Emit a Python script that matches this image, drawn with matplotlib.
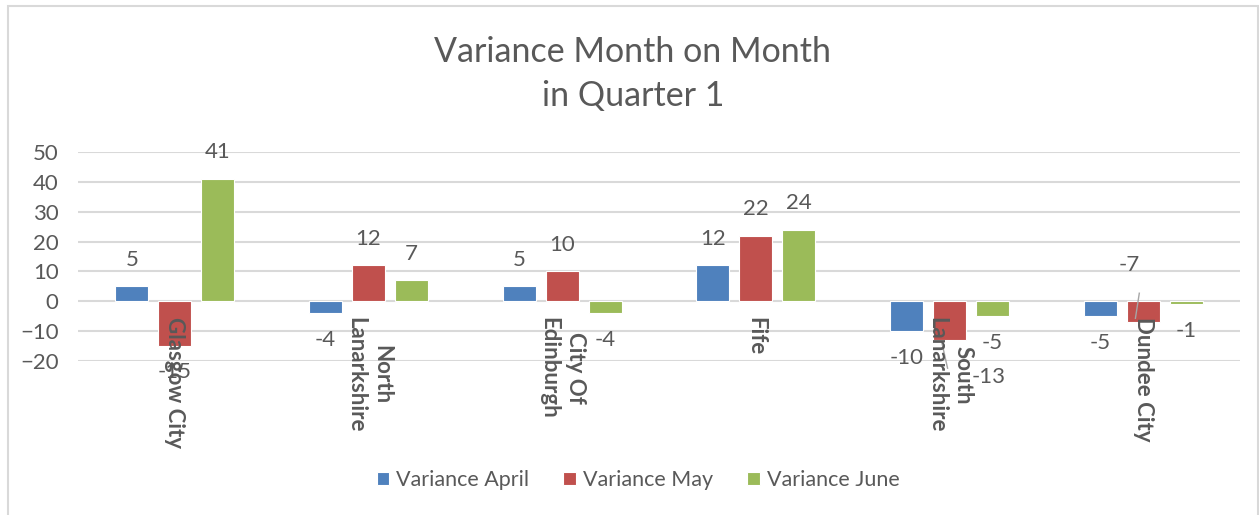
import matplotlib
matplotlib.use("Agg")
import matplotlib.pyplot as plt
from matplotlib.patches import Rectangle
import numpy as np

plt.rcParams['font.family'] = ['Lato', 'DejaVu Sans']

#%% data
regions = ["Glasgow City", "North\nLanarkshire", "City Of\nEdinburgh", "Fife",
           "South\nLanarkshire", "Dundee City"]
var_april = [5, -4, 5, 12, -10, -5]
var_may = [-15, 12, 10, 22, -13, -7]
var_june = [41, 7, -4, 24, -5, -1]
series_names = ["Variance April", "Variance May", "Variance June"]
yticks = [-20, -10, 0, 10, 20, 30, 40, 50]

#%% plot
grey_txt = "#595959"
colours = ["#4F81BD", "#C0504D", "#9BBB59"]

fig = plt.figure(figsize=(12.59, 5.15), dpi=100)
ax = fig.add_axes([78/1259, 1 - 361/515, (1240 - 78)/1259, (361 - 152)/515])

x = np.arange(len(regions)) + 0.5
w = 0.17
step = 0.222

# excel moved a few labels out of the way (with leader lines)
moved = {(1, 4): (0.2, -25.4, -0.04, -13.7, -0.01, -22.4),
         (1, 5): (-0.07, 12.1, -0.02, 2.7, -0.04, -5.7)}

for i, (vals, col, name) in enumerate(zip([var_april, var_may, var_june],
                                          colours, series_names)):
    xs = x + (i - 1) * step
    ax.bar(xs, vals, w, color=col, edgecolor="white", linewidth=0.8,
           label=name, zorder=3)
    for j, (xi, v) in enumerate(zip(xs, vals)):
        if (i, j) in moved:
            dx, ly, lx0, ly0, lx1, ly1 = moved[(i, j)]
            ax.text(xi + dx, ly, str(v), ha="center", va="center",
                    fontsize=16, color=grey_txt, clip_on=False)
            ax.plot([xi + lx0, xi + lx1], [ly0, ly1], color="#A6A6A6",
                    lw=1, clip_on=False, zorder=4)
            continue
        off = 19 if v >= 0 else -19
        ax.annotate(str(v), (xi, v), xytext=(0, off), textcoords="offset points",
                    ha="center", va="center", fontsize=16, color=grey_txt,
                    annotation_clip=False)

# category labels hang off the zero line
for xi, lab in zip(x, regions):
    ax.text(xi, -5.3, lab, rotation=-90, ha="center", va="top",
            multialignment="center", fontsize=16, fontweight="bold",
            color=grey_txt, linespacing=1.3, zorder=5)

ax.set_xlim(0, len(regions))
ax.set_ylim(-20, 50)
ax.set_yticks(yticks)
ax.set_xticks([])
ax.tick_params(axis="y", length=0, pad=14, labelsize=16, labelcolor=grey_txt)
ax.grid(axis="y", color="#D9D9D9", linewidth=1.5, zorder=0)
for s in ax.spines.values():
    s.set_visible(False)

fig.text(633/1259, 1 - 74/515, "Variance Month on Month\nin Quarter 1",
         ha="center", va="center", fontsize=24.5, color=grey_txt,
         linespacing=1.45)

fig.legend(loc="center", bbox_to_anchor=(638/1259, 1 - 480/515), ncol=3,
           frameon=False, fontsize=15.5, labelcolor=grey_txt,
           handlelength=0.6, handleheight=0.6, handletextpad=0.3,
           columnspacing=1.6)

# chart border
fig.add_artist(Rectangle((8/1259, -0.1), (1258 - 8)/1259, 1.1 - 6/515,
                         transform=fig.transFigure, fill=False,
                         edgecolor="#D9D9D9", linewidth=1.5))

fig.savefig("out.png", dpi=100)
